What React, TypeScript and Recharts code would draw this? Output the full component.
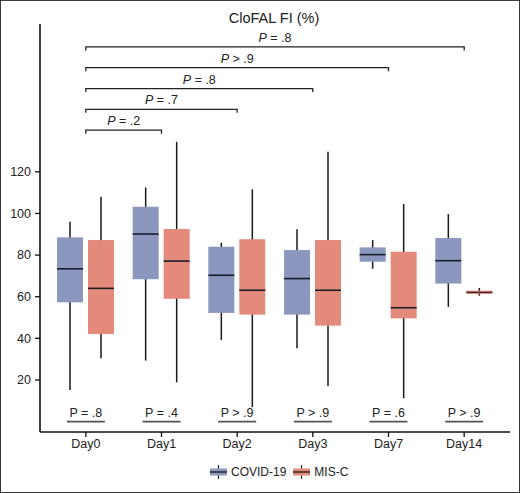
import {
  ComposedChart,
  Bar,
  XAxis,
  YAxis,
  Legend,
  ReferenceLine,
  ReferenceDot,
} from "recharts";

const days = ["Day0", "Day1", "Day2", "Day3", "Day7", "Day14"];

// COVID-19 box stats per day
const covidMin = [15.2, 29.3, 39.2, 35.2, 73.4, 55.1];
const covidQ1 = [57.3, 68.4, 52.2, 51.4, 76.8, 66.3];
const covidMed = [73.4, 90.1, 70.3, 68.7, 80.2, 77.3];
const covidQ3 = [88.5, 103.2, 84, 82.4, 83.7, 88.2];
const covidMax = [96, 112.5, 85.9, 92.4, 87.2, 99.7];

// MIS-C box stats per day
const miscMin = [30.4, 18.9, 6.9, 17.1, 11.2, 60.5];
const miscQ1 = [42.1, 59, 51.4, 46.1, 49.6, 61.3];
const miscMed = [64, 77.1, 63.1, 63.1, 54.7, 62.1];
const miscQ3 = [87.2, 92.5, 87.6, 87.2, 81.6, 62.9];
const miscMax = [108, 134.4, 111.6, 129.6, 104.5, 64.2];

// p-values between groups on each day
const groupP = ["P = .8", "P = .4", "P > .9", "P > .9", "P = .6", "P > .9"];

// Day0 vs later day comparisons
const bracketEnd = ["Day1", "Day2", "Day3", "Day7", "Day14"];
const bracketLevel = [140, 150, 160, 170, 180];
const bracketP = ["= .2", "= .7", "= .8", "> .9", "= .8"];

const yTicks = [20, 40, 60, 80, 100, 120];

const COVID = "#8b97bf";
const MISC = "#e48a7b";
const FONT = "'Liberation Sans', Arial, sans-serif";

const data = days.map((day, i) => ({
  day,
  cov: [covidMin[i], covidMax[i]],
  covQ1: covidQ1[i],
  covMed: covidMed[i],
  covQ3: covidQ3[i],
  mis: [miscMin[i], miscMax[i]],
  misQ1: miscQ1[i],
  misMed: miscMed[i],
  misQ3: miscQ3[i],
}));

function renderBox(props: any, key: string, color: string) {
  const { x, y, width, height, payload } = props;
  const [lo, hi] = payload[key];
  const toY = (v: number) => y + (height * (hi - v)) / (hi - lo);
  const q1 = toY(payload[key + "Q1"]);
  const q3 = toY(payload[key + "Q3"]);
  const med = toY(payload[key + "Med"]);
  const cx = x + width / 2;
  return (
    <g>
      <line x1={cx} x2={cx} y1={y} y2={y + height} stroke="#1a1a1a" strokeWidth={1.5} />
      <rect x={x} y={q3} width={width} height={Math.max(q1 - q3, 1)} fill={color} />
      <line x1={x} x2={x + width} y1={med} y2={med} stroke="#1a1d2a" strokeWidth={q1 - q3 < 6 ? 1.1 : 1.6} />
    </g>
  );
}

function bracketShape(label: string) {
  return (p: any) => {
    const { x1, x2, y1 } = p;
    return (
      <g>
        <path
          d={`M${x1},${y1 + 3.5}V${y1}H${x2}V${y1 + 3.5}`}
          fill="none"
          stroke="#222"
          strokeWidth={1.3}
        />
        <text
          x={(x1 + x2) / 2}
          y={y1 - 5}
          textAnchor="middle"
          fontSize={12.5}
          fill="#222"
          fontFamily={FONT}
        >
          <tspan fontStyle="italic">P</tspan>
          {" " + label}
        </text>
      </g>
    );
  };
}

function groupShape(label: string) {
  return (p: any) => {
    const { cx, cy } = p;
    return (
      <g>
        <line x1={cx - 19} x2={cx + 19} y1={cy} y2={cy} stroke="#555" strokeWidth={1.6} />
        <text x={cx} y={cy - 5} textAnchor="middle" fontSize={12.5} fill="#222" fontFamily={FONT}>
          {label}
        </text>
      </g>
    );
  };
}

function LegendIcon({ color }: { color: string }) {
  return (
    <svg width={17} height={14} style={{ display: "block" }}>
      <line x1={8.5} x2={8.5} y1={0} y2={14} stroke="#222" strokeWidth={1.2} />
      <rect x={0} y={3.5} width={17} height={7} fill={color} />
      <line x1={0} x2={17} y1={7} y2={7} stroke="#1a1a1a" strokeWidth={1.3} />
    </svg>
  );
}

function LegendContent() {
  const items = [
    { name: "COVID-19", color: COVID },
    { name: "MIS-C", color: MISC },
  ];
  return (
    <div style={{ display: "flex", alignItems: "center", fontFamily: FONT, fontSize: 12, color: "#222" }}>
      {items.map((it) => (
        <div key={it.name} style={{ display: "flex", alignItems: "center", marginRight: 7 }}>
          <LegendIcon color={it.color} />
          <span style={{ marginLeft: 4 }}>{it.name}</span>
        </div>
      ))}
    </div>
  );
}

export default function App() {
  return (
    <div style={{ position: "absolute", left: 0, top: 0, width: 520, height: 493, fontFamily: FONT, background: "#fff" }}>
      <ComposedChart
        width={520}
        height={493}
        data={data}
        margin={{ top: 24, right: 10, bottom: 31, left: 0 }}
        barSize={26}
        barGap={5}
      >
        <text x={274} y={23} textAnchor="middle" fontSize={14.5} fill="#222" fontFamily={FONT}>
          CloFAL FI (%)
        </text>
        <XAxis
          dataKey="day"
          height={30}
          padding={{ left: 8, right: 8 }}
          axisLine={{ stroke: "#111", strokeWidth: 1.6 }}
          tickLine={{ stroke: "#111", strokeWidth: 1.3 }}
          tickSize={5}
          tick={{ fill: "#222", fontSize: 12.5 }}
        />
        <YAxis
          width={40}
          domain={[-5, 191]}
          ticks={yTicks}
          allowDataOverflow
          axisLine={{ stroke: "#111", strokeWidth: 1.6 }}
          tickLine={{ stroke: "#111", strokeWidth: 1.3 }}
          tickSize={5}
          tickMargin={4}
          tick={{ fill: "#222", fontSize: 12.5 }}
        />
        <Bar
          dataKey="cov"
          name="COVID-19"
          fill={COVID}
          isAnimationActive={false}
          shape={(p: any) => renderBox(p, "cov", COVID)}
        />
        <Bar
          dataKey="mis"
          name="MIS-C"
          fill={MISC}
          isAnimationActive={false}
          shape={(p: any) => renderBox(p, "mis", MISC)}
        />
        {bracketEnd.map((end, i) => (
          <ReferenceLine
            key={end}
            segment={[
              { x: days[0], y: bracketLevel[i] },
              { x: end, y: bracketLevel[i] },
            ]}
            shape={bracketShape(bracketP[i])}
          />
        ))}
        {days.map((d, i) => (
          <ReferenceDot key={d} x={d} y={0} shape={groupShape(groupP[i])} />
        ))}
        <Legend
          layout="horizontal"
          verticalAlign="middle"
          align="center"
          wrapperStyle={{ top: 465, left: 210, width: 200 }}
          content={() => <LegendContent />}
        />
      </ComposedChart>
      <div
        style={{
          position: "absolute",
          left: 0,
          top: 0,
          width: 520,
          height: 493,
          boxSizing: "border-box",
          border: "1.5px solid #3a3a3a",
          pointerEvents: "none",
        }}
      />
    </div>
  );
}
